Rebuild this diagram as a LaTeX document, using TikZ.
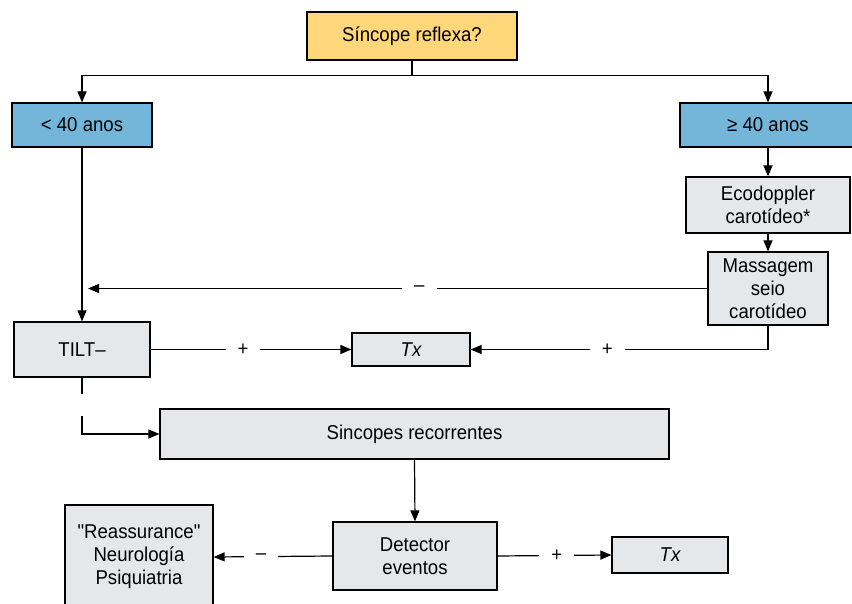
\documentclass[tikz,border=0pt]{standalone}
\usepackage{fontspec}
\setmainfont{Liberation Sans}[FakeStretch=0.93, Ligatures=TeXOff]
\usepackage{xcolor}
\usetikzlibrary{positioning,calc,arrows.meta}

\definecolor{qyellow}{HTML}{FDD77A}
\definecolor{qblue}{HTML}{73B6DA}
\definecolor{qgray}{HTML}{E6E7E8}

\tikzset{
    box/.style={draw, line width=1.2pt, fill=qgray, align=center, font=\fontsize{20}{23}\selectfont, inner sep=0pt},
    arr/.style={line width=1.2pt, -{Triangle[length=11pt,width=9pt]}},
    link/.style={line width=1.2pt},
    sign/.style={fill=white, inner xsep=12pt, inner ysep=2pt, font=\fontsize{20}{23}\selectfont}
}

\begin{document}
\begin{tikzpicture}[x=1pt, y=-1pt]
    \useasboundingbox (0,0) rectangle (852,604);

    % Boxes
    \node[box, fill=qyellow, minimum width=210pt, minimum height=48pt] (reflexa) at (412,36) {Síncope reflexa?};
    \node[box, fill=qblue, minimum width=140pt, minimum height=44pt] (young) at (82,125) {< 40 anos};
    \node[box, fill=qblue, minimum width=176pt, minimum height=44pt] (old) at (768,125) {≥ 40 anos};
    \node[box, minimum width=164pt, minimum height=56pt] (doppler) at (768,205) {Ecodoppler\\carotídeo*};
    \node[box, minimum width=120pt, minimum height=73pt] (massage) at (768,288.5) {Massagem\\seio\\carotídeo};
    \node[box, minimum width=136pt, minimum height=55pt] (tilt) at (82,349.5) {TILT–};
    \node[box, minimum width=118pt, minimum height=33pt] (txa) at (411,349.5) {\itshape Tx};
    \node[box, minimum width=509pt, minimum height=50pt] (recur) at (414.5,434) {Sincopes recorrentes};
    \node[box, minimum width=164pt, minimum height=68pt] (detector) at (415,556) {Detector\\eventos};
    \node[box, minimum width=148pt, minimum height=104pt] (reassure) at (139,557) {"Reassurance"\\Neurología\\Psiquiatria};
    \node[box, minimum width=116pt, minimum height=36pt] (txb) at (670,555) {\itshape Tx};

    % Age split
    \draw[arr] (reflexa.south) -- ++(0,15) -| (young.north);
    \draw[arr] (reflexa.south) -- ++(0,15) -| (old.north);

    % Right branch
    \draw[arr] (old.south) -- (doppler.north);
    \draw[arr] (doppler.south) -- (massage.north);
    \draw[arr] (massage.west) -- node[sign, pos=0.465] {–} ([xshift=6pt]young.south |- massage.west);
    \draw[arr] (massage.south) |- node[sign, pos=0.77] {+} (txa.east);

    % Left branch
    \draw[arr] (young.south) -- (tilt.north);
    \draw[arr] (tilt.east) -- node[sign, pos=0.46] {+} (txa.west);
    \coordinate (stub) at ($(tilt.south)+(0,16)$);
    \coordinate (resume) at ($(tilt.south)+(0,38)$);
    \draw[link] (tilt.south) -- (stub);
    \draw[arr] (resume) |- (recur.west);

    % Event recorder
    \draw[arr] (recur.south) -- (detector.north);
    \draw[arr] (detector.west) -- node[sign, pos=0.6] {–} (reassure.east);
    \draw[arr] (detector.east) -- node[sign, pos=0.52] {+} (txb.west);
\end{tikzpicture}
\end{document}
